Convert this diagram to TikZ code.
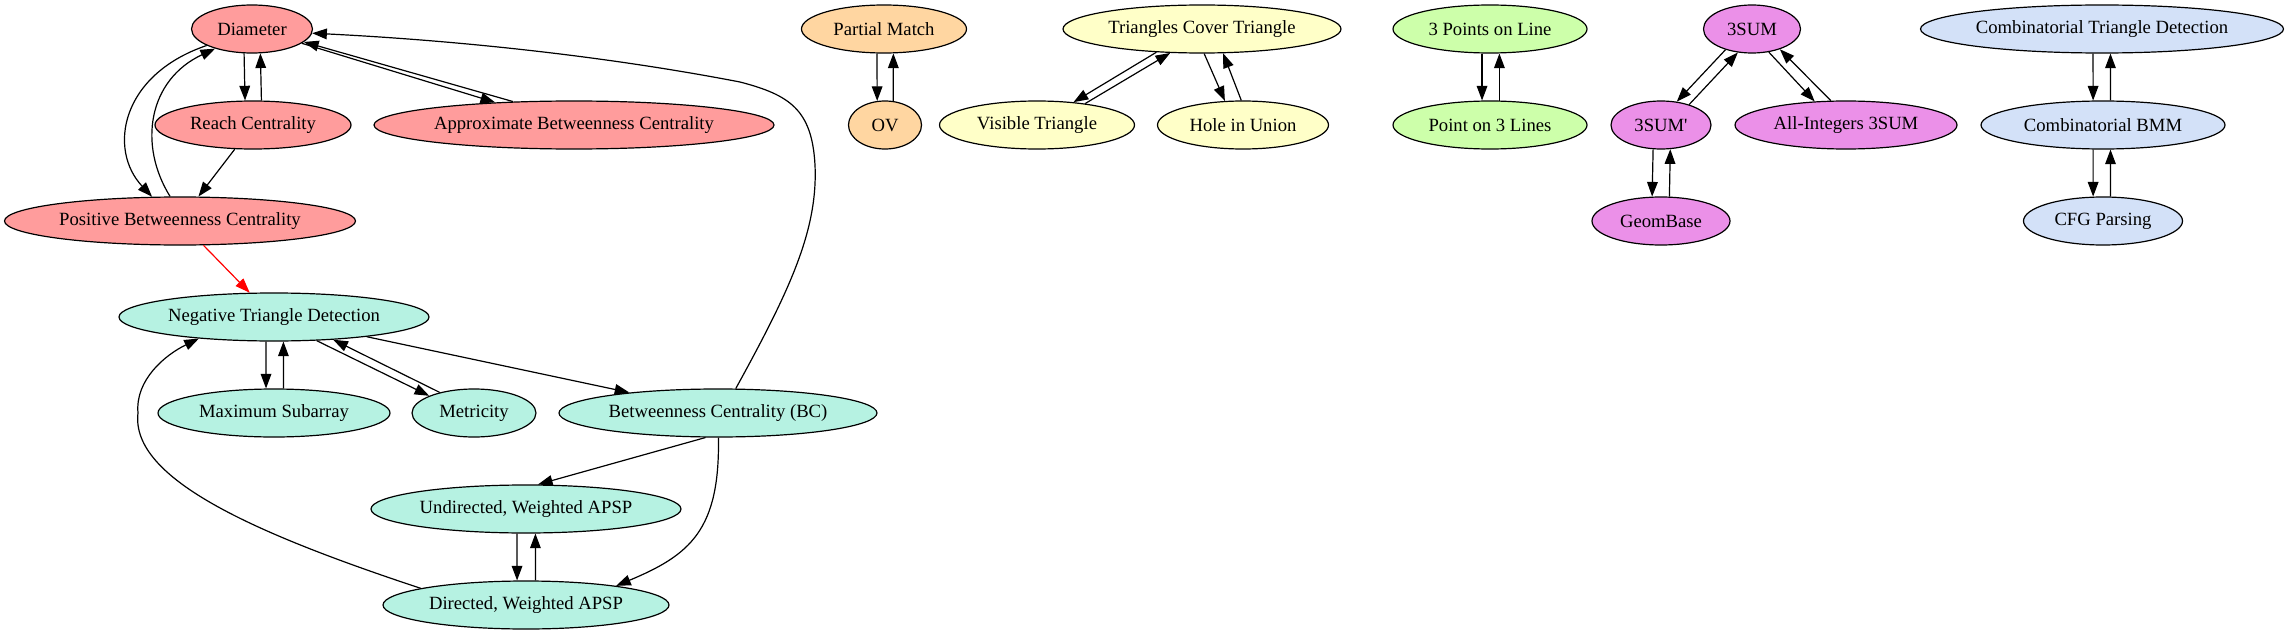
\documentclass[tikz,border=0pt]{standalone}
\usepackage{fontspec}
\setmainfont{Liberation Serif}
\usetikzlibrary{shapes.geometric,arrows.meta}
\definecolor{cred}{HTML}{FF9C9C}
\definecolor{cteal}{HTML}{B6F2E2}
\definecolor{corange}{HTML}{FFD6A1}
\definecolor{cyellow}{HTML}{FFFFC8}
\definecolor{cgreen}{HTML}{CDFFAA}
\definecolor{cmag}{HTML}{EB90E8}
\definecolor{cblue}{HTML}{D3E1F8}
\begin{document}
\begin{tikzpicture}[x=0.75pt,y=-0.75pt,
  gnode/.style={ellipse,draw,line width=0.9pt,inner sep=0pt,minimum height=36pt,font=\fontsize{14pt}{16pt}\selectfont},
  wd/.style={minimum width=#1*0.75pt},
  arr/.style={-{Triangle[length=11pt,width=8pt]},line width=0.9pt}]
\useasboundingbox (0,0) rectangle (2289,635);
% red group
\node[gnode,fill=cred,wd=121] (diam) at (252,29) {Diameter};
\node[gnode,fill=cred,wd=196] (reach) at (253,125) {Reach Centrality};
\node[gnode,fill=cred,wd=400] (apbc) at (574,125) {Approximate Betweenness Centrality};
\node[gnode,fill=cred,wd=351] (posbc) at (180,221) {Positive Betweenness Centrality};
% teal group
\node[gnode,fill=cteal,wd=310] (ntd) at (274,317) {Negative Triangle Detection};
\node[gnode,fill=cteal,wd=232] (maxsub) at (274,413) {Maximum Subarray};
\node[gnode,fill=cteal,wd=124] (metric) at (474,413) {Metricity};
\node[gnode,fill=cteal,wd=318] (bc) at (718,413) {Betweenness Centrality (BC)};
\node[gnode,fill=cteal,wd=310] (uapsp) at (526,509) {Undirected, Weighted APSP};
\node[gnode,fill=cteal,wd=286] (dapsp) at (526,605) {Directed, Weighted APSP};
% orange
\node[gnode,fill=corange,wd=165] (pm) at (884,29) {Partial Match};
\node[gnode,fill=corange,wd=73] (ov) at (885,125) {OV};
% yellow
\node[gnode,fill=cyellow,wd=278] (tct) at (1202,29) {Triangles Cover Triangle};
\node[gnode,fill=cyellow,wd=195] (vt) at (1037,125) {Visible Triangle};
\node[gnode,fill=cyellow,wd=171] (hiu) at (1243,125) {Hole in Union};
% green
\node[gnode,fill=cgreen,wd=194] (tpol) at (1490,29) {3 Points on Line};
\node[gnode,fill=cgreen,wd=194] (po3l) at (1490,125) {Point on 3 Lines};
% magenta
\node[gnode,fill=cmag,wd=97] (sum) at (1752,29) {3SUM};
\node[gnode,fill=cmag,wd=100] (sump) at (1661,125) {3SUM\textquotesingle};
\node[gnode,fill=cmag,wd=222] (ai) at (1846,125) {All-Integers 3SUM};
\node[gnode,fill=cmag,wd=138] (geom) at (1661,221) {GeomBase};
% blue
\node[gnode,fill=cblue,wd=363] (ctd) at (2102,29) {Combinatorial Triangle Detection};
\node[gnode,fill=cblue,wd=244] (cbmm) at (2103,125) {Combinatorial BMM};
\node[gnode,fill=cblue,wd=159] (cfg) at (2103,221) {CFG Parsing};

% red edges
\draw[arr] (diam.-108.6) -- (reach.108.5);
\draw[arr] (reach.71.5) -- (diam.-71.4);
\draw[arr] (diam.-16.9) -- (apbc.164.8);
\draw[arr] (apbc.159.5) -- (diam.-14.2);
\draw[arr] (diam.-160.4) .. controls (120,75) and (108,150) .. (posbc.139.8);
\draw[arr] (posbc.112.7) .. controls (138,145) and (148,80) .. (diam.-152.8);
\draw[arr] (reach.-127.3) -- (posbc.53);
\draw[arr,red] (posbc.-46) -- (ntd.135.3);
% teal edges
\draw[arr] (ntd.-108.5) -- (maxsub.108.5);
\draw[arr] (maxsub.69.4) -- (ntd.-69.4);
\draw[arr] (ntd.-29.4) -- (metric.159);
\draw[arr] (metric.149.4) -- (ntd.-21.8);
\draw[arr] (ntd.-12.1) -- (bc.167.8);
\draw[arr] (bc.-117.1) -- (uapsp.64);
\draw[arr] (bc.-89.6) .. controls (720,530) and (690,555) .. (dapsp.12.6);
\draw[arr] (uapsp.-110.6) -- (dapsp.110.6);
\draw[arr] (dapsp.69.4) -- (uapsp.-69.4);
\draw[arr] (dapsp.171.9) .. controls (260,535) and (130,480) .. (138,413) .. controls (135,380) and (165,355) .. (ntd.-164.1);
\draw[arr] (bc.54.6) .. controls (790,290) and (818,230) .. (815,165) .. controls (812,110) and (790,95) .. (740,82) .. controls (600,55) and (450,40) .. (diam.-4);
% orange edges
\draw[arr] (pm.-106.3) -- (ov.108.9);
\draw[arr] (ov.71.1) -- (pm.-69.3);
% yellow edges
\draw[arr] (tct.-153.2) -- (vt.32.6);
\draw[arr] (vt.24.7) -- (tct.-143.9);
\draw[arr] (tct.-85.2) -- (hiu.127.5);
\draw[arr] (hiu.94.8) -- (tct.-49.9);
% green edges
\draw[arr] (tpol.-108.5) -- (po3l.108.5);
\draw[arr] (po3l.69.4) -- (tpol.-69.4);
% magenta edges
\draw[arr] (sum.-142) -- (sump.56.8);
\draw[arr] (sump.36.8) -- (sum.-121.3);
\draw[arr] (sum.-54.8) -- (ai.143.4);
\draw[arr] (ai.122.2) -- (sum.-36.4);
\draw[arr] (sump.-108.6) -- (geom.110.7);
\draw[arr] (geom.71.4) -- (sump.-69.1);
% blue edges
\draw[arr] (ctd.-110.6) -- (cbmm.112.7);
\draw[arr] (cbmm.73.7) -- (ctd.-71.5);
\draw[arr] (cbmm.-112.7) -- (cfg.112.8);
\draw[arr] (cfg.73.7) -- (cbmm.-73.7);
\end{tikzpicture}
\end{document}
